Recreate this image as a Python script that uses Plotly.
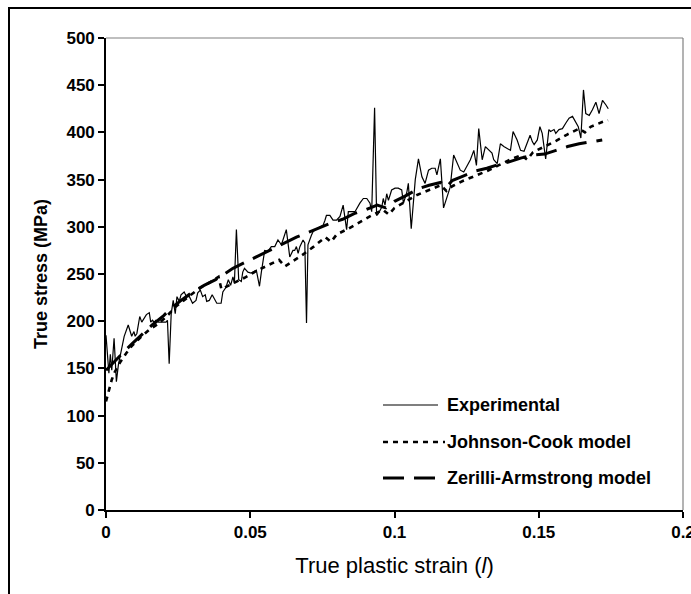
import plotly.graph_objects as go

# ---------------- data ----------------
exp_strain = [0.0000, 0.0005, 0.0010, 0.0015, 0.0020, 0.0028, 0.0036, 0.0043, 0.0050, 0.0063,
              0.0077, 0.0089, 0.0097, 0.0101, 0.0107, 0.0117, 0.0124, 0.0132, 0.0140, 0.0150,
              0.0155, 0.0161, 0.0167, 0.0173, 0.0182, 0.0208, 0.0213, 0.0219, 0.0226, 0.0233,
              0.0240, 0.0246, 0.0254, 0.0260, 0.0271, 0.0279, 0.0289, 0.0300, 0.0312, 0.0318,
              0.0327, 0.0335, 0.0344, 0.0349, 0.0358, 0.0368, 0.0376, 0.0384, 0.0399, 0.0405,
              0.0416, 0.0424, 0.0432, 0.0440, 0.0445, 0.0452, 0.0460, 0.0469, 0.0474, 0.0480,
              0.0492, 0.0503, 0.0521, 0.0532, 0.0538, 0.0550, 0.0561, 0.0573, 0.0585, 0.0596,
              0.0608, 0.0619, 0.0625, 0.0637, 0.0648, 0.0654, 0.0660, 0.0666, 0.0672, 0.0683,
              0.0689, 0.0695, 0.0700, 0.0712, 0.0718, 0.0730, 0.0741, 0.0753, 0.0759, 0.0764,
              0.0776, 0.0787, 0.0799, 0.0811, 0.0822, 0.0834, 0.0840, 0.0851, 0.0863, 0.0880,
              0.0892, 0.0904, 0.0915, 0.0921, 0.0931, 0.0938, 0.0944, 0.0956, 0.0961, 0.0967,
              0.0973, 0.0979, 0.0990, 0.1002, 0.1013, 0.1025, 0.1031, 0.1043, 0.1048, 0.1058,
              0.1072, 0.1083, 0.1095, 0.1106, 0.1118, 0.1129, 0.1141, 0.1147, 0.1159, 0.1170,
              0.1193, 0.1205, 0.1217, 0.1228, 0.1240, 0.1252, 0.1263, 0.1275, 0.1284, 0.1292,
              0.1304, 0.1315, 0.1327, 0.1338, 0.1344, 0.1356, 0.1367, 0.1379, 0.1402, 0.1411,
              0.1425, 0.1437, 0.1449, 0.1460, 0.1470, 0.1478, 0.1484, 0.1495, 0.1504, 0.1512,
              0.1524, 0.1535, 0.1541, 0.1553, 0.1559, 0.1570, 0.1582, 0.1594, 0.1605, 0.1617,
              0.1628, 0.1637, 0.1646, 0.1655, 0.1663, 0.1675, 0.1686, 0.1698, 0.1709, 0.1721,
              0.1733, 0.1741]
exp_stress = [185, 160, 145, 165, 148, 182, 136, 154, 165, 184,
              196, 184, 189, 184, 187, 205, 199, 203, 207, 209,
              199, 201, 199, 201, 199, 199, 201, 155, 208, 222,
              208, 226, 221, 228, 231, 226, 226, 219, 222, 230,
              233, 226, 228, 221, 222, 228, 224, 219, 219, 231,
              236, 244, 238, 247, 240, 297, 244, 242, 252, 256,
              252, 251, 254, 237, 251, 275, 274, 279, 279, 286,
              281, 293, 297, 268, 275, 275, 279, 272, 279, 286,
              283, 198, 281, 291, 295, 298, 300, 302, 307, 312,
              312, 307, 307, 311, 323, 297, 316, 316, 316, 325,
              330, 330, 325, 316, 426, 312, 314, 321, 330, 323,
              335, 328, 339, 341, 341, 339, 325, 337, 346, 298,
              350, 372, 353, 346, 360, 362, 362, 355, 372, 320,
              342, 376, 367, 360, 358, 364, 371, 381, 365, 404,
              371, 385, 381, 378, 371, 367, 388, 385, 381, 401,
              392, 381, 380, 390, 397, 390, 387, 392, 406, 399,
              372, 403, 401, 403, 399, 403, 404, 410, 415, 417,
              411, 406, 394, 445, 420, 418, 424, 432, 420, 434,
              429, 425]

jc_strain = [0.000, 0.001, 0.002, 0.003, 0.005, 0.007, 0.009, 0.012, 0.015, 0.018,
             0.021, 0.024, 0.028, 0.032, 0.036, 0.039, 0.040, 0.044, 0.048, 0.052,
             0.056, 0.060, 0.062, 0.064, 0.068, 0.072, 0.076, 0.078, 0.080, 0.084,
             0.088, 0.092, 0.096, 0.098, 0.100, 0.104, 0.108, 0.112, 0.116, 0.118,
             0.120, 0.124, 0.128, 0.132, 0.136, 0.140, 0.144, 0.146, 0.148, 0.152,
             0.156, 0.160, 0.164, 0.166, 0.168, 0.172, 0.174]
jc_stress = [115, 127, 138, 146, 157, 166, 174, 183, 191, 197,
             205, 215, 225, 234, 241, 247, 234, 240, 246, 253,
             259, 265, 258, 262, 270, 279, 289, 284, 292, 298,
             305, 312, 318, 313, 320, 327, 334, 339, 344, 338,
             343, 349, 354, 359, 365, 371, 376, 371, 379, 385,
             391, 398, 404, 400, 406, 411, 413]

za_strain = [0.000, 0.003, 0.006, 0.009, 0.012, 0.016, 0.020, 0.022, 0.026, 0.030,
             0.034, 0.038, 0.040, 0.044, 0.048, 0.052, 0.056, 0.060, 0.063, 0.066,
             0.070, 0.074, 0.078, 0.082, 0.086, 0.090, 0.094, 0.097, 0.100, 0.104,
             0.108, 0.112, 0.116, 0.118, 0.120, 0.124, 0.128, 0.132, 0.136, 0.140,
             0.144, 0.148, 0.152, 0.156, 0.160, 0.164, 0.168, 0.172]
za_stress = [148, 158, 167, 176, 185, 196, 206, 212, 222, 231,
             238, 244, 248, 256, 262, 268, 274, 280, 284, 289,
             294, 299, 304, 308, 314, 318, 323, 320, 327, 333,
             340, 344, 347, 342, 349, 354, 359, 362, 366, 369,
             373, 376, 377, 381, 385, 388, 390, 392]

x_ticks = [0, 0.05, 0.1, 0.15, 0.2]
x_ticktext = ["0", "0.05", "0.1", "0.15", "0.2"]
y_ticks = [0, 50, 100, 150, 200, 250, 300, 350, 400, 450, 500]
y_ticktext = ["0", "50", "100", "150", "200", "250", "300", "350", "400", "450", "500"]

series_names = ["Experimental", "Johnson-Cook model", "Zerilli-Armstrong model"]

# ---------------- figure ----------------
FONT = "Arial, Liberation Sans, sans-serif"
W, H = 691, 594
L, R, T, B = 106, 8, 38, 84
pw, ph = W - L - R, H - T - B

def px_x(p):
    return (p - L) / pw

def px_y(p):
    return (H - B - p) / ph

fig = go.Figure()
fig.add_trace(go.Scatter(x=exp_strain, y=exp_stress, mode="lines", name=series_names[0],
                         line=dict(color="black", width=1.2), showlegend=False))
fig.add_trace(go.Scatter(x=jc_strain, y=jc_stress, mode="lines", name=series_names[1],
                         line=dict(color="black", width=2.6, dash="5px,5px"), showlegend=False))
fig.add_trace(go.Scatter(x=za_strain, y=za_stress, mode="lines", name=series_names[2],
                         line=dict(color="black", width=3, dash="21px,10px"), showlegend=False))

shapes = []
# outer chart frame (extends past the window on right and bottom)
shapes.append(dict(type="rect", xref="paper", yref="paper",
                   x0=px_x(9), x1=1.2, y0=-0.3, y1=px_y(8),
                   line=dict(color="black", width=2), fillcolor="rgba(0,0,0,0)"))
# gray top/right plot-area borders
shapes.append(dict(type="line", xref="paper", yref="paper", x0=0, x1=1, y0=1, y1=1,
                   line=dict(color="#808080", width=1.2)))
shapes.append(dict(type="line", xref="paper", yref="paper", x0=1, x1=1, y0=0, y1=1,
                   line=dict(color="#808080", width=1.2)))

# manual legend
leg = [
    (series_names[0], 405, 438, dict(color="black", width=1.2)),
    (series_names[1], 442, 445, dict(color="black", width=2.6, dash="5px,5px")),
    (series_names[2], 478, 438, dict(color="black", width=3, dash="21px,10px")),
]
annotations = []
for name, ypx, xend, ln in leg:
    shapes.append(dict(type="line", xref="paper", yref="paper",
                       x0=px_x(383), x1=px_x(xend), y0=px_y(ypx), y1=px_y(ypx), line=ln))
    annotations.append(dict(text=f"<b>{name}</b>", xref="paper", yref="paper",
                            x=px_x(445), y=px_y(ypx), xanchor="left", yanchor="middle",
                            showarrow=False, font=dict(family=FONT, size=18, color="black")))

fig.update_layout(
    width=W, height=H,
    margin=dict(l=L, r=R, t=T, b=B, pad=0),
    paper_bgcolor="white", plot_bgcolor="white",
    font=dict(family=FONT, color="black"),
    shapes=shapes, annotations=annotations,
    showlegend=False,
)
fig.update_xaxes(
    range=[0, 0.2], tickvals=x_ticks, ticktext=[f"<b>{t}</b>" for t in x_ticktext],
    showgrid=False, zeroline=False,
    showline=True, linecolor="black", linewidth=1.6,
    ticks="outside", ticklen=6, tickwidth=1.5, tickcolor="black",
    ticklabeloverflow="allow",
    tickfont=dict(family=FONT, size=17, color="black"),
    title=dict(text="True plastic strain (<i>l</i>)", standoff=16,
               font=dict(family=FONT, size=22, color="black")),
    automargin=False,
)
fig.update_yaxes(
    range=[0, 500], tickvals=y_ticks, ticktext=[f"<b>{t}</b>" for t in y_ticktext],
    showgrid=False, zeroline=False,
    showline=True, linecolor="black", linewidth=1.6,
    ticks="outside", ticklen=6, tickwidth=1.5, tickcolor="black",
    tickfont=dict(family=FONT, size=17, color="black"),
    title=dict(text="<b>True stress (MPa)</b>", standoff=14,
               font=dict(family=FONT, size=18, color="black")),
    automargin=False,
)

fig.write_html("out.html")
